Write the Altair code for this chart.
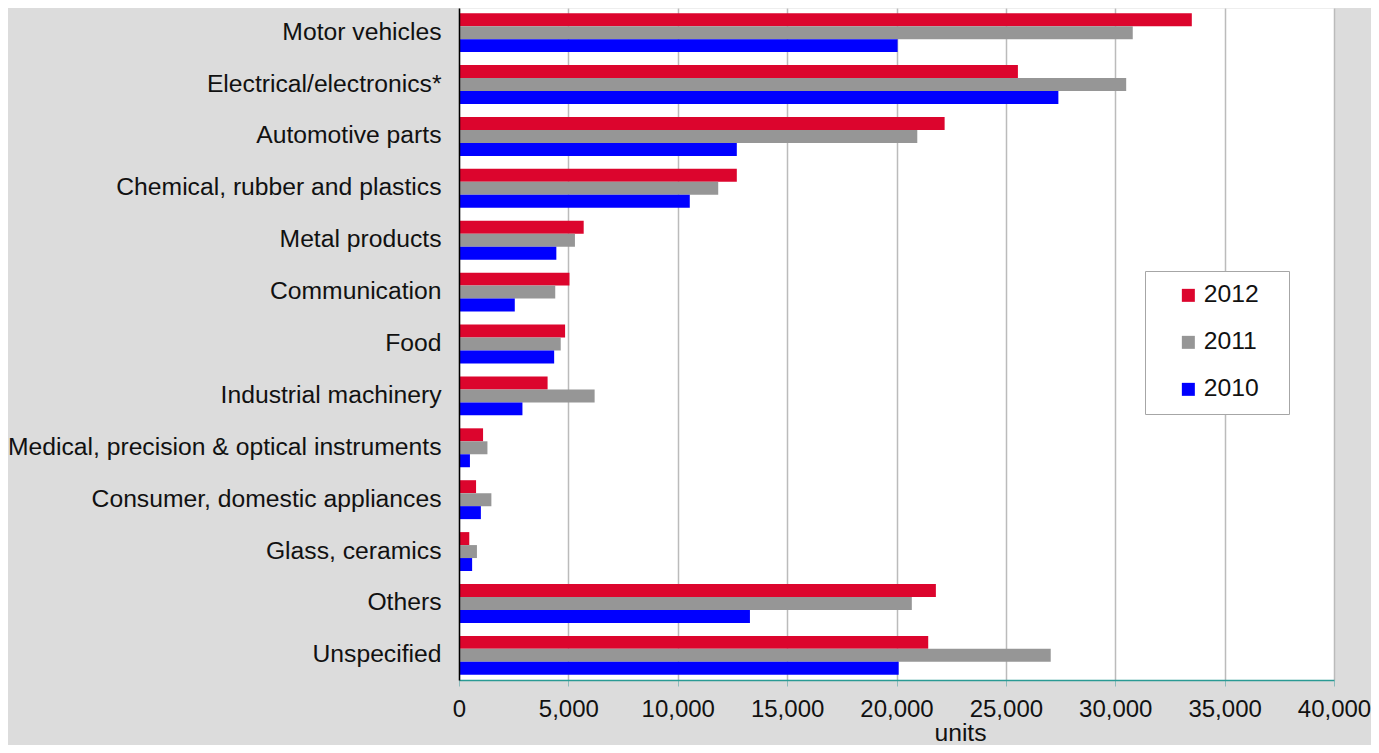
import altair as alt
import pandas as pd

categories = [
    "Motor vehicles",
    "Electrical/electronics*",
    "Automotive parts",
    "Chemical, rubber and plastics",
    "Metal products",
    "Communication",
    "Food",
    "Industrial machinery",
    "Medical, precision & optical instruments",
    "Consumer, domestic appliances",
    "Glass, ceramics",
    "Others",
    "Unspecified",
]
v2012 = [33500, 25550, 22200, 12700, 5700, 5050, 4850, 4050, 1100, 780, 470, 21800, 21450]
v2011 = [30800, 30500, 20950, 11850, 5300, 4400, 4650, 6200, 1300, 1480, 820, 20700, 27050]
v2010 = [20050, 27400, 12700, 10550, 4450, 2550, 4350, 2900, 500, 1000, 600, 13300, 20100]
years = ["2012", "2011", "2010"]
colors = ["#dc052d", "#969696", "#0000ff"]
x_ticks = [0, 5000, 10000, 15000, 20000, 25000, 30000, 35000, 40000]

rows = []
for yr, vals in zip(years, [v2012, v2011, v2010]):
    for c, v in zip(categories, vals):
        rows.append({"category": c, "year": yr, "value": v})
df = pd.DataFrame(rows)

FONT = "Liberation Sans"
FS = 24.7

chart = (
    alt.Chart(df)
    .mark_bar()
    .encode(
        y=alt.Y(
            "category:N",
            sort=categories,
            scale=alt.Scale(paddingInner=0.25, paddingOuter=0.1),
            axis=alt.Axis(
                title=None,
                ticks=False,
                grid=False,
                domainColor="#000000",
                domainWidth=1.5,
                labelFontSize=FS,
                labelFont=FONT,
                labelColor="#111111",
                labelPadding=18,
                labelLimit=600,
                zindex=1,
            ),
        ),
        yOffset=alt.YOffset("year:N", sort=years, scale=alt.Scale(paddingInner=0, paddingOuter=0)),
        x=alt.X(
            "value:Q",
            scale=alt.Scale(domain=[0, 40000], nice=False),
            axis=alt.Axis(
                title="units",
                values=x_ticks,
                format=",.0f",
                labelOverlap=False,
                labelFlush=False,
                grid=True,
                gridColor="#bbbbbb",
                gridWidth=1.5,
                domainColor="#2a9a94",
                domainWidth=1.5,
                tickColor="#8fbcbc",
                tickSize=6,
                labelFontSize=24,
                labelFont=FONT,
                labelColor="#111111",
                labelPadding=11,
                titleFont=FONT,
                titleFontSize=FS,
                titleFontWeight="normal",
                titleColor="#111111",
                titleX=501,
                titleY=60,
                titleBaseline="alphabetic",
                titleAlign="center",
            ),
        ),
        color=alt.Color(
            "year:N",
            sort=years,
            scale=alt.Scale(domain=years, range=colors),
            legend=alt.Legend(
                title=None,
                orient="none",
                legendX=686,
                legendY=263,
                padding=12,
                fillColor="#ffffff",
                strokeColor="#a6a6a6",
                symbolType="square",
                symbolSize=169,
                symbolStrokeWidth=0,
                symbolOffset=19,
                labelFontSize=FS,
                labelFont=FONT,
                labelColor="#111111",
                labelOffset=3,
                rowPadding=21,
                labelExpr="datum.label + '\u2800'",
            ),
        ),
    )
    .properties(
        width=875,
        height=672,
        padding={"left": 451, "top": 0, "right": 37, "bottom": 65},
        autosize=alt.AutoSizeParams(type="none"),
        background="#dcdcdc",
    )
    .configure_view(fill="#ffffff", stroke="transparent")
)

chart.save("out.html", embed_options={"renderer": "svg", "actions": False})
